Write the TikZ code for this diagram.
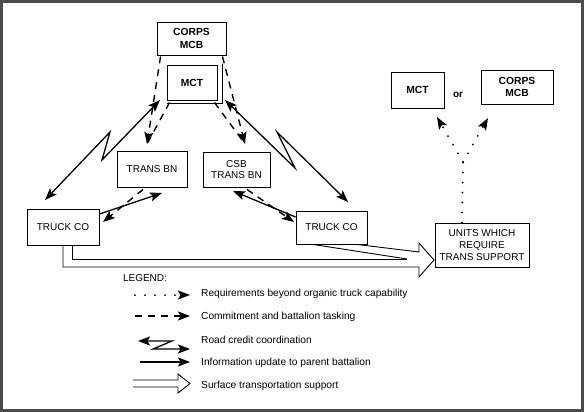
\documentclass[tikz,border=0pt]{standalone}
\usepackage{fontspec}
\setmainfont{Liberation Sans}
\usetikzlibrary{arrows.meta}
\begin{document}
\begin{tikzpicture}[x=1pt,y=-1pt,
  box/.style={draw, line width=0.9pt, fill=white, align=center, inner sep=0pt, font=\fontsize{10}{11.8}\selectfont},
  bbox/.style={box, font=\fontsize{10.3}{12.5}\selectfont\bfseries},
  ln/.style={line width=1.3pt},
  tipE/.style={-{Stealth[length=12pt,width=9pt,inset=2.5pt]}},
  tipB/.style={{Stealth[length=12pt,width=9pt,inset=2.5pt]}-{Stealth[length=12pt,width=9pt,inset=2.5pt]}},
  dashln/.style={line width=1.4pt, dash pattern=on 7pt off 6pt},
  dotln/.style={line width=2pt, dash pattern=on 0pt off 10pt, line cap=round},
  hollow/.style={line width=0.9pt, line join=miter},
  legtext/.style={anchor=west, inner sep=0pt, font=\fontsize{10.2}{12}\selectfont},
]
\useasboundingbox (0,0) rectangle (584,412);
\fill[white] (0,0) rectangle (584,412);
\draw[line width=3pt, black!70] (1.5,1.5) rectangle (582.5,410.5);

% nodes
\node[bbox, minimum width=69pt, minimum height=33pt] (corpsT) at (191.5,38.5) {CORPS\\MCB};
\node[bbox, minimum width=50pt, minimum height=35pt] (mctT) at (192,82.5) {MCT};
\draw[line width=0.9pt] ([shift={(5,-1)}]mctT.north east) -- ([shift={(5,3)}]mctT.south east) -- ([shift={(0,3)}]mctT.south west);
\node[box, minimum width=70pt, minimum height=36pt] (tbn) at (152,169) {TRANS BN};
\node[box, minimum width=67pt, minimum height=35pt] (csb) at (236.5,169.5) {CSB\\TRANS BN};
\node[box, minimum width=72pt, minimum height=36pt] (truckL) at (63,227) {TRUCK CO};
\node[box, minimum width=71pt, minimum height=33pt] (truckR) at (331.5,227.5) {TRUCK CO};
\node[box, minimum width=94pt, minimum height=44pt] (units) at (482,245) {UNITS WHICH\\REQUIRE\\TRANS SUPPORT};
\node[bbox, minimum width=53pt, minimum height=36pt] (mctR) at (417.5,90) {MCT};
\node[bbox, minimum width=72pt, minimum height=34pt] (corpsR) at (517,87) {CORPS\\MCB};
\node[inner sep=0pt, font=\fontsize{10}{12}\selectfont\bfseries] (or) at (458,95) {or};

% tasking (dashed) from CORPS MCB / MCT
\coordinate (dL) at (147,144);
\coordinate (dR) at (245,144);
\draw[dashln, tipE] ([shift={(4,1)}]corpsT.south west) -- (dL);
\draw[dashln] ([shift={(3,2)}]mctT.south west) -- (dL);
\draw[dashln, tipE] ([shift={(-4,1)}]corpsT.south east) -- (dR);
\draw[dashln] ([shift={(-3,2)}]mctT.south east) -- (dR);

% road credit coordination
\coordinate (rcL1) at (160,100);
\coordinate (rcLa) at (102,160);
\coordinate (rcLb) at (110,132);
\coordinate (rcL2) at (45,200);
\draw[ln, tipB] (rcL1) -- (rcLa) -- (rcLb) -- (rcL2);
\coordinate (rcR1) at (225,100);
\coordinate (rcRa) at (295,168);
\coordinate (rcRb) at (277,132);
\coordinate (rcR2) at (348,202);
\draw[ln, tipB] (rcR1) -- (rcRa) -- (rcRb) -- (rcR2);

% battalion <-> truck companies
\coordinate (iL) at (162,193);
\coordinate (iR) at (233,191);
\coordinate (tL) at (103,222);
\coordinate (tR) at (294,222);
\draw[ln, tipE] ([yshift=13]truckL.east) -- (iL);
\draw[ln, tipE] ([yshift=10.5]truckR.west) -- (iR);
\draw[dashln, tipE] ([shift={(-9,2)}]tbn.south) -- (tL);
\draw[dashln, tipE] ([shift={(10.5,2)}]csb.south) -- (tR);

% requirements (dotted)
\coordinate (split) at (463,162);
\coordinate (qL) at (437,117);
\coordinate (qR) at (488,118);
\draw[dotln] ([xshift=-20]units.north) -- (split);
\draw[dotln, tipE] (split) -- (qL);
\draw[dotln, tipE] (split) -- (qR);

% surface transportation support (hollow arrow)
\draw[hollow] (truckL.south) -- (63,267) -- (419,267) -- (419,277) -- (434,260) -- (419,243) -- (419,252) -- ([xshift=25.5]truckR.south);
\draw[hollow] ([xshift=9]truckL.south) -- (72,259) -- (407,259);
\draw[hollow] ([xshift=-18.5]truckR.south) -- (407,259);

% legend
\node[inner sep=0pt, font=\fontsize{10}{12}\selectfont] (leg) at (145,278) {LEGEND:};
\draw[dotln, tipE] (135,295) -- (190,295);
\node[legtext] (l1) at (201,294) {Requirements beyond organic truck capability};
\draw[dashln, tipE] (135,316) -- (190,316);
\node[legtext] (l2) at (201,317) {Commitment and battalion tasking};
\draw[ln, tipB] (138,341) -- (172,341) -- (153,349) -- (190,349);
\node[legtext] (l3) at (201,340) {Road credit coordination};
\draw[ln, tipE] (140,362) -- (190,362);
\node[legtext] (l4) at (201,363) {Information update to parent battalion};
\draw[hollow] (133,380) -- (178,380) -- (178,374) -- (190,383.5) -- (178,393) -- (178,387) -- (133,387);
\node[legtext] (l5) at (201,386) {Surface transportation support};
\end{tikzpicture}
\end{document}
